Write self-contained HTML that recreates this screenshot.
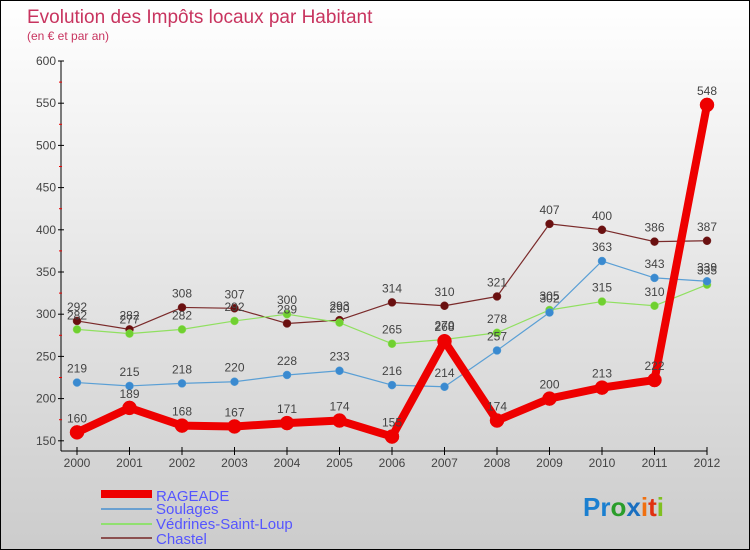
<!DOCTYPE html>
<html><head><meta charset="utf-8"><style>
body{margin:0;}
#wrap{width:748px;height:548px;border:1px solid #000;background:linear-gradient(#fff,#ccc);position:relative;overflow:hidden;font-family:"Liberation Sans",sans-serif;}
svg text{font-family:"Liberation Sans",sans-serif;}
</style></head><body>
<div id="wrap">
<svg id="c" width="748" height="548" xmlns="http://www.w3.org/2000/svg">
<text x="26" y="22" font-size="19" fill="#c8345f">Evolution des Impôts locaux par Habitant</text>
<text x="26" y="39" font-size="12" fill="#c8345f">(en € et par an)</text>
<g id="axes"></g><g id="series"></g><g id="labels"></g>
<g>
<rect x="100" y="489" width="51" height="8" fill="#e00"/>
<text x="155" y="500" font-size="15" fill="#55f">RAGEADE</text>
<rect x="100" y="507" width="51" height="2" fill="#6aa0d0"/>
<text x="155" y="513" font-size="15" fill="#55f">Soulages</text>
<rect x="100" y="522" width="51" height="2" fill="#90e070"/>
<text x="155" y="528" font-size="15" fill="#55f">Védrines-Saint-Loup</text>
<rect x="100" y="536" width="51" height="2" fill="#8b5050"/>
<text x="155" y="543" font-size="15" fill="#55f">Chastel</text>
</g>
<text x="582" y="515" font-size="26" font-weight="bold"><tspan fill="#1a7fd0">Pr</tspan><tspan fill="#2a9d2a">o</tspan><tspan fill="#1a6fc0">x</tspan><tspan fill="#f07010">i</tspan><tspan fill="#e03010">t</tspan><tspan fill="#80c020">i</tspan></text>
</svg></div>
<script>
const years=["2000","2001","2002","2003","2004","2005","2006","2007","2008","2009","2010","2011","2012"];
const yTicks=[150,200,250,300,350,400,450,500,550,600];
const rageade=[160,189,168,167,171,174,155,268,174,200,213,222,548];
const soulages=[219,215,218,220,228,233,216,214,257,302,363,343,339];
const vedrines=[282,277,282,292,300,290,265,270,278,305,315,310,335];
const chastel=[292,282,308,307,289,293,314,310,321,407,400,386,387];
const NS="http://www.w3.org/2000/svg";
const xs=i=>76+i*52.5;
const ys=v=>60+(600-v)*42.2/50;
function mk(t,a,p){const e=document.createElementNS(NS,t);for(const k in a)e.setAttribute(k,a[k]);p.appendChild(e);return e;}
const ax=document.getElementById('axes');
const yl=mk('line',{x1:60,y1:60,x2:60,y2:450,stroke:'#000'},ax);


const xl=mk('line',{x1:60,y1:450,x2:706,y2:450,stroke:'#000'},ax);


yTicks.forEach(v=>{
  mk('line',{x1:57,x2:63,y1:ys(v),y2:ys(v),stroke:'#000'},ax);
  if(v<600) mk('line',{x1:58,x2:61,y1:ys(v+25),y2:ys(v+25),stroke:'#e00'},ax);
  const t=mk('text',{x:55,y:ys(v)+4,'font-size':12,fill:'#444','text-anchor':'end'},ax);t.textContent=v;
  
  
});
years.forEach((y,i)=>{
  mk('line',{x1:xs(i),x2:xs(i),y1:446,y2:454,stroke:'#000'},ax);
  const t=mk('text',{x:xs(i),y:466,'font-size':12,fill:'#444','text-anchor':'middle'},ax);t.textContent=y;
  
  
});
const sg=document.getElementById('series'),lg=document.getElementById('labels');
function draw(data,name,col,dot,w,r){
  const p=mk('polyline',{points:data.map((v,i)=>xs(i)+','+ys(v)).join(' '),fill:'none',stroke:col,'stroke-width':w,'stroke-linejoin':'round'},sg);
  
  
  data.forEach((v,i)=>{
    const c=mk('circle',{cx:xs(i),cy:ys(v),r:r,fill:dot,stroke:col,'stroke-width':0.5},sg);
    
    
    const t=mk('text',{x:xs(i),y:ys(v)-10,'font-size':12,fill:'#444','text-anchor':'middle'},lg);t.textContent=v;
    
    
  });
}
draw(chastel,'chastel','#7a2a2a','#6a1010',1.2,4);
draw(vedrines,'vedrines','#90e060','#70d030',1.2,4);
draw(soulages,'soulages','#5a9fd5','#3a8ad0',1.2,4);
draw(rageade,'rageade','#ee0000','#ee0000',8,7);
</script>
</body></html>
